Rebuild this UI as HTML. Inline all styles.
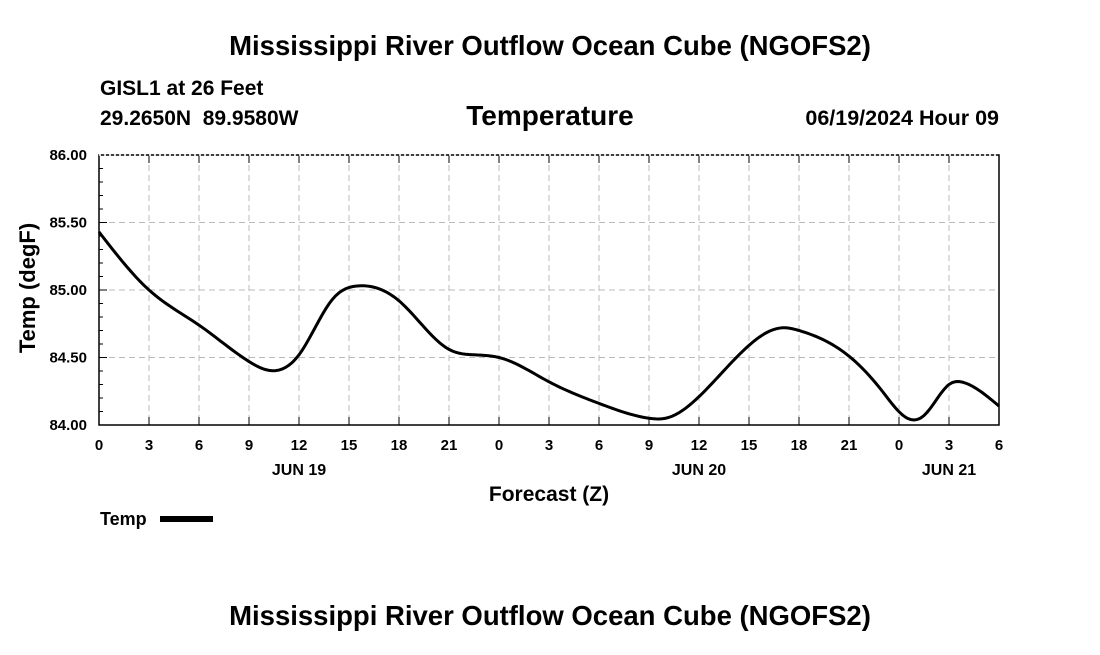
<!DOCTYPE html>
<html><head><meta charset="utf-8"><style>
body{margin:0;background:#fff;font-family:"Liberation Sans",sans-serif;}
svg text{font-family:"Liberation Sans",sans-serif;font-weight:bold;fill:#000;}
</style></head><body>
<svg id="chart" width="1100" height="650" viewBox="0 0 1100 650">
<text x="550" y="55" font-size="27.5" text-anchor="middle">Mississippi River Outflow Ocean Cube (NGOFS2)</text>
<text x="100" y="95" font-size="21">GISL1 at 26 Feet</text>
<text x="100" y="125" font-size="21" xml:space="preserve">29.2650N  89.9580W</text>
<text x="550" y="125" font-size="28" text-anchor="middle">Temperature</text>
<text x="999" y="125" font-size="21.5" text-anchor="end">06/19/2024 Hour 09</text>
<g id="grid"></g>
<g id="axes"></g>
<path id="line" fill="none" stroke="#000" stroke-width="3"/>
<text transform="translate(35,288) rotate(-90)" font-size="22" text-anchor="middle">Temp (degF)</text>
<text x="549" y="501" font-size="21" text-anchor="middle">Forecast (Z)</text>
<text x="100" y="525" font-size="18">Temp</text>
<rect x="160" y="516" width="53" height="6" fill="#000"/>
<text x="550" y="625" font-size="27.5" text-anchor="middle">Mississippi River Outflow Ocean Cube (NGOFS2)</text>
</svg>
<script>
const hours=[0,3,6,9,10,12,14,15.5,18,21,22.5,24,27,30,33,34,36,39,41,42,45,47,48.5,49.5,51,52,54];
const temps=[85.43,85.0,84.74,84.47,84.41,84.52,84.93,85.03,84.92,84.56,84.52,84.50,84.32,84.16,84.05,84.05,84.21,84.59,84.72,84.70,84.51,84.25,84.05,84.07,84.30,84.31,84.14];
const yTicks=[84.0,84.5,85.0,85.5,86.0];
const xTickLabels=["0","3","6","9","12","15","18","21","0","3","6","9","12","15","18","21","0","3","6"];
const dayLabels=["JUN 19","JUN 20","JUN 21"];
const dayHours=[12,36,51];
const X0=99,X1=999,Y0=425,Y1=155;
const xs=h=>X0+(h/54)*(X1-X0);
const ys=v=>Y0-(v-84)/2*(Y0-Y1);
const NS="http://www.w3.org/2000/svg";
function mk(tag,parent,attrs){const e=document.createElementNS(NS,tag);for(const k in attrs)e.setAttribute(k,attrs[k]);parent.appendChild(e);return e;}
const grid=document.getElementById('grid'),axes=document.getElementById('axes');
xTickLabels.forEach((l,i)=>{
 const x=xs(i*3);
 if(i>0&&i<xTickLabels.length-1){const g=mk('line',grid,{x1:x,x2:x,y1:Y1,y2:Y0,stroke:'#bbb','stroke-dasharray':'6,4'});
 
 }
 const t=mk('line',axes,{x1:x,x2:x,y1:Y0,y2:Y0-8,stroke:'#000'});
 
 
 const t2=mk('line',axes,{x1:x,x2:x,y1:Y1,y2:Y1+8,stroke:'#000'});
 
 
 const tx=mk('text',axes,{x:x,y:450,'font-size':15,'text-anchor':'middle'});tx.textContent=l;
 
 
});
dayLabels.forEach((l,i)=>{const tx=mk('text',axes,{x:xs(dayHours[i]),y:475,'font-size':16,'text-anchor':'middle'});tx.textContent=l;
 
 });
yTicks.forEach(v=>{
 const y=ys(v);
 if(v>84&&v<86){const g=mk('line',grid,{x1:X0,x2:X1,y1:y,y2:y,stroke:'#bbb','stroke-dasharray':'6,4'});
 
 }
 const tk=mk('line',axes,{x1:X0,x2:X0+8,y1:y,y2:y,stroke:'#000'});
 
 
 const tx=mk('text',axes,{x:87,y:y+5,'font-size':15,'text-anchor':'end'});tx.textContent=v.toFixed(2);
 
 
});
for(let v=84;v<=86.001;v+=0.1){const y=ys(v);const m=mk('line',axes,{x1:X0,x2:X0+4,y1:y,y2:y,stroke:'#000'});
 
 }
const frame=mk('rect',axes,{x:X0,y:Y1,width:X1-X0,height:Y0-Y1,fill:'none',stroke:'#000','stroke-width':1.5});


const topDots=mk('line',axes,{x1:X0,x2:X1,y1:Y1,y2:Y1,stroke:'#fff','stroke-width':1.5,'stroke-dasharray':'2,3'});


// natural cubic spline
const n=hours.length;
const hh=[],al=[0],l=[1],mu=[0],z=[0],c=new Array(n).fill(0),b=[],dd=[];
for(let i=0;i<n-1;i++)hh.push(hours[i+1]-hours[i]);
for(let i=1;i<n-1;i++)al.push(3/hh[i]*(temps[i+1]-temps[i])-3/hh[i-1]*(temps[i]-temps[i-1]));
for(let i=1;i<n-1;i++){l[i]=2*(hours[i+1]-hours[i-1])-hh[i-1]*mu[i-1];mu[i]=hh[i]/l[i];z[i]=(al[i]-hh[i-1]*z[i-1])/l[i];}
z[n-1]=0;
for(let j=n-2;j>=0;j--){c[j]=z[j]-mu[j]*c[j+1];b[j]=(temps[j+1]-temps[j])/hh[j]-hh[j]*(c[j+1]+2*c[j])/3;dd[j]=(c[j+1]-c[j])/(3*hh[j]);}
let d='';
for(let j=0;j<n-1;j++){
 for(let t=0;t<hh[j];t+=0.2){const v=temps[j]+b[j]*t+c[j]*t*t+dd[j]*t*t*t;
  d+=(d?' L':'M')+xs(hours[j]+t).toFixed(2)+','+ys(v).toFixed(2);}
}
d+=' L'+xs(hours[n-1])+','+ys(temps[n-1]);
document.getElementById('line').setAttribute('d',d);
</script>
</body></html>
